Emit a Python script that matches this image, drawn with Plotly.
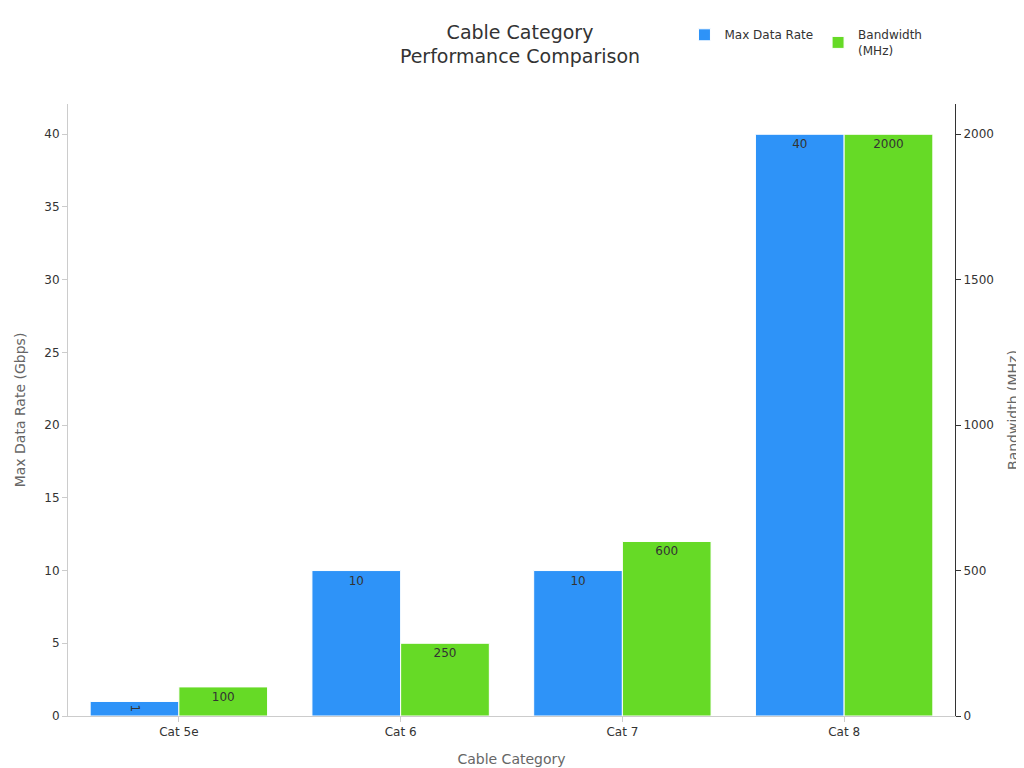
import plotly.graph_objects as go

categories = ["Cat 5e", "Cat 6", "Cat 7", "Cat 8"]
max_rate = [1, 10, 10, 40]
bandwidth = [100, 250, 600, 2000]

fig = go.Figure()
fig.add_trace(go.Bar(
    x=categories, y=max_rate, name="Max Data Rate",
    marker=dict(color="#2E93F8", line=dict(color="white", width=1)),
    text=max_rate, textposition="inside", insidetextanchor="end",
    textfont=dict(color="#333", size=12),
    offsetgroup=0, yaxis="y",
))
fig.add_trace(go.Bar(
    x=categories, y=bandwidth, name="Bandwidth<br>(MHz)",
    marker=dict(color="#66DA26", line=dict(color="white", width=1)),
    text=bandwidth, textposition="inside", insidetextanchor="end",
    textfont=dict(color="#333", size=12),
    offsetgroup=1, yaxis="y2",
))

fig.update_layout(
    width=1024, height=768,
    paper_bgcolor="white", plot_bgcolor="white",
    font=dict(family="DejaVu Sans", size=12, color="#333"),
    title=dict(text="Cable Category<br>Performance Comparison", x=0.5, y=0.96,
               xanchor="center", font=dict(size=19, color="#333")),
    margin=dict(l=60, r=77, t=80, b=60),
    barmode="group", bargap=0.2, bargroupgap=0,
    xaxis=dict(title=dict(text="Cable Category", font=dict(size=14, color="#666")),
               showline=True, linecolor="#ccc", ticks="outside", tickcolor="#ccc"),
    yaxis=dict(title=dict(text="Max Data Rate (Gbps)", font=dict(size=14, color="#666")),
               range=[0, 42.08], dtick=5, showgrid=False, zeroline=False,
               showline=True, linecolor="#ccc", ticks="outside", tickcolor="#ccc"),
    yaxis2=dict(title=dict(text="Bandwidth (MHz)", font=dict(size=14, color="#666")),
                range=[0, 2104], dtick=500, overlaying="y", side="right",
                showgrid=False, zeroline=False,
                showline=True, linecolor="#333", ticks="outside", tickcolor="#333"),
    legend=dict(orientation="h", x=0.695, y=1.1, xanchor="left", yanchor="middle",
                font=dict(size=12)),
    uniformtext=dict(minsize=12, mode="show"),
)

fig.write_html("out.html")
